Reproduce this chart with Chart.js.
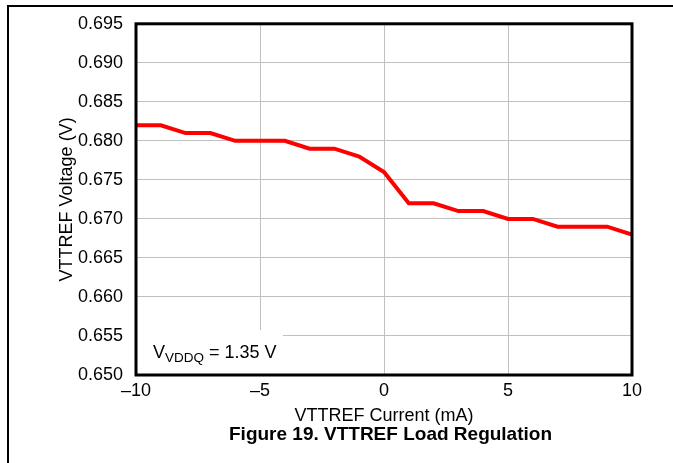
<!DOCTYPE html>
<html>
<head>
<meta charset="utf-8">
<script src="https://cdn.jsdelivr.net/npm/chart.js@4.4.1/dist/chart.umd.min.js"></script>
<style>
  html, body { margin: 0; padding: 0; background: #fff; }
  #wrap { width: 673px; height: 463px; }
</style>
</head>
<body>
<div id="wrap"><canvas id="chart" width="673" height="463"></canvas></div>
<script>
// VTTREF load regulation
const currentMa = [-10, -9, -8, -7, -6, -5, -4, -3, -2, -1, 0, 1, 2, 3, 4, 5, 6, 7, 8, 9, 10];
const voltageV = [0.682, 0.682, 0.681, 0.681, 0.680, 0.680, 0.680, 0.679, 0.679, 0.678, 0.676,
                  0.672, 0.672, 0.671, 0.671, 0.670, 0.670, 0.669, 0.669, 0.669, 0.668];
const xTicks = [-10, -5, 0, 5, 10];
const yRange = [0.650, 0.695];

const FONT = 'Liberation Sans, Arial, sans-serif';
const FIG_TITLE = 'Figure 19. VTTREF Load Regulation';

// cadre de la figure, boite du graphe, encart et titre
const framePlugin = {
    id: 'frame',
    beforeDatasetsDraw(chart) {
        // encart VVDDQ sur fond blanc
        const ctx = chart.ctx;
        const a = chart.chartArea;
        ctx.save();
        ctx.fillStyle = '#fff';
        ctx.fillRect(a.left, 330, 283 - a.left, a.bottom - 330);
        ctx.fillStyle = '#000';
        ctx.textBaseline = 'alphabetic';
        let x = 153;
        ctx.font = '18px ' + FONT;
        ctx.fillText('V', x, 358);
        x += ctx.measureText('V').width;
        ctx.font = '13.5px ' + FONT;
        ctx.fillText('VDDQ', x, 362);
        x += ctx.measureText('VDDQ').width;
        ctx.font = '18px ' + FONT;
        ctx.fillText(' = 1.35 V', x, 358);
        ctx.restore();
    },
    afterDraw(chart) {
        const ctx = chart.ctx;
        const a = chart.chartArea;
        ctx.save();
        ctx.strokeStyle = '#000';
        ctx.lineWidth = 3;
        ctx.strokeRect(a.left, a.top, a.right - a.left, a.bottom - a.top);
        ctx.fillStyle = '#000';
        ctx.fillRect(7, 5, 666, 2);
        ctx.fillRect(7, 5, 2, 458);
        // titre de la figure
        ctx.font = 'bold 19px ' + FONT;
        ctx.textAlign = 'center';
        ctx.textBaseline = 'middle';
        ctx.fillText(FIG_TITLE, 390.5, 435);
        ctx.restore();
    }
};

const points = currentMa.map((x, i) => ({ x: x, y: voltageV[i] }));

new Chart(document.getElementById('chart'), {
    type: 'line',
    data: {
        datasets: [{
            data: points,
            borderColor: '#ff0000',
            borderWidth: 4,
            pointRadius: 0,
            tension: 0,
            fill: false
        }]
    },
    options: {
        responsive: false,
        animation: false,
        layout: { padding: { left: 0, top: 22, right: 41, bottom: 24 } },
        plugins: {
            legend: { display: false },
            tooltip: { enabled: false },
            title: { display: false }
        },
        scales: {
            x: {
                type: 'linear',
                min: xTicks[0],
                max: xTicks[xTicks.length - 1],
                afterFit(scale) { scale.height = 64; },
                afterBuildTicks(scale) { scale.ticks = xTicks.map(v => ({ value: v })); },
                grid: { color: '#c0c0c0', lineWidth: 1, drawTicks: false },
                border: { display: false },
                ticks: {
                    color: '#000',
                    padding: 5,
                    maxRotation: 0,
                    font: { family: FONT, size: 18 },
                    callback: v => v < 0 ? '\u2013' + Math.abs(v) : String(v)
                },
                title: {
                    display: true,
                    text: 'VTTREF Current (mA)',
                    color: '#000',
                    font: { family: FONT, size: 18 },
                    padding: { top: 0, bottom: 12 }
                }
            },
            y: {
                min: yRange[0],
                max: yRange[1],
                afterFit(scale) { scale.width = 136; },
                grid: { color: '#c0c0c0', lineWidth: 1, drawTicks: false },
                border: { display: false },
                ticks: {
                    color: '#000',
                    padding: 13,
                    stepSize: 0.005,
                    font: { family: FONT, size: 18 },
                    callback: v => Number(v).toFixed(3)
                },
                title: {
                    display: true,
                    text: 'VTTREF Voltage (V)',
                    color: '#000',
                    font: { family: FONT, size: 18 },
                    padding: { top: 56, bottom: 0 }
                }
            }
        }
    },
    plugins: [framePlugin]
});
</script>
</body>
</html>
